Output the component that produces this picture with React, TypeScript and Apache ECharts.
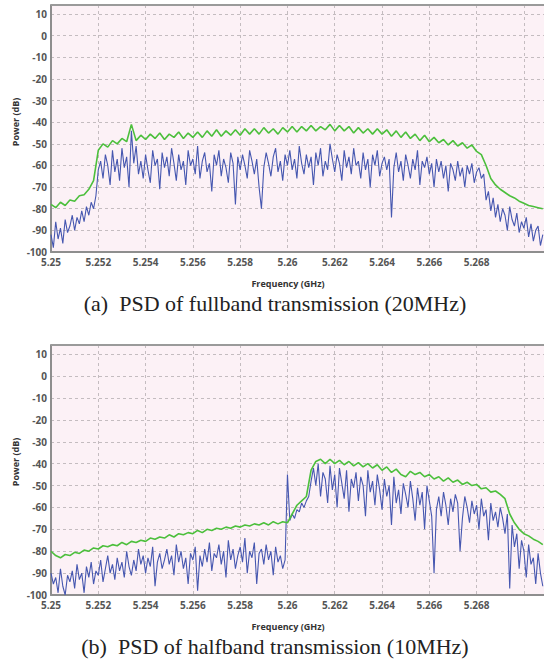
import React, { useEffect, useRef } from "react";
import * as echarts from "echarts";

// Frequency grid (GHz)
const F_START = 5.25;
const GREEN_STEP = 0.0002;
const BLUE_STEP = 0.0001;

const yTicks = [-100, -90, -80, -70, -60, -50, -40, -30, -20, -10, 0, 10];
const xTickLabels = ["5.25", "5.252", "5.254", "5.256", "5.258", "5.26", "5.262", "5.264", "5.266", "5.268"];

// (a) fullband — max-hold (green), step 0.0002 GHz
const fullMax = [
  -78, -79.5, -77, -78.5, -76, -76.5, -74, -73.5, -71, -67,
  -53, -50, -51.5, -48.5, -50, -47.5, -49, -41, -48.5, -46,
  -48, -45.5, -47.5, -45, -48, -45.5, -47, -44.5, -47.5, -45,
  -47, -44.5, -47, -44, -46.5, -43.5, -46.5, -44, -46, -43.5,
  -46, -43, -45.5, -43, -45.5, -42.5, -45, -43, -45.5, -42.5,
  -44.5, -42, -44.5, -42, -44, -41.5, -44, -42, -43.5, -41,
  -44, -41.5, -44, -42, -45, -42.5, -45, -43, -45.5, -43,
  -45.5, -43.5, -46.5, -44, -47, -44.5, -47.5, -45.5, -48.5, -46,
  -49, -47, -49.5, -48, -50.5, -48.5, -51, -49.5, -52, -50.5,
  -53.5, -55, -60, -66, -69, -71, -72.5, -74, -75, -76.5,
  -77.5, -78.5, -79, -79.5, -80,
];

// (a) fullband — instantaneous (blue), step 0.0001 GHz
const fullInst = [
  -92, -98, -86, -94, -89, -96, -85, -91, -88, -83,
  -90, -84, -87, -81, -86, -79, -83, -77, -80, -74,
  -62, -58, -66, -55, -60, -69, -53, -63, -57, -67,
  -52, -61, -56, -70, -44, -59, -51, -64, -58, -66,
  -55, -62, -68, -53, -60, -57, -71, -54, -61, -56,
  -65, -52, -59, -67, -55, -62, -58, -69, -53, -60,
  -57, -64, -51, -66, -58, -54, -63, -59, -72, -55,
  -60, -53, -65, -57, -61, -68, -54, -59, -78, -56,
  -62, -55, -60, -66, -53, -58, -64, -57, -70, -80,
  -61, -54, -59, -65, -56, -52, -63, -58, -67, -55,
  -60, -53, -62, -57, -66, -51, -59, -64, -55, -61,
  -56, -69, -54, -60, -52, -65, -58, -62, -50, -57,
  -63, -55, -59, -67, -53, -61, -56, -64, -52, -60,
  -58, -66, -54, -62, -57, -70, -55, -60, -53, -65,
  -59, -56, -62, -57, -84, -61, -54, -63, -58, -67,
  -55, -60, -66, -57, -62, -53, -69, -58, -61, -56,
  -64, -59, -70, -57, -63, -58, -66, -60, -72, -59,
  -62, -67, -58, -65, -61, -70, -60, -64, -59, -68,
  -63, -61, -66, -64, -76, -72, -81, -75, -84, -78,
  -86, -80, -83, -90, -79, -85, -88, -82, -91, -86,
  -89, -84, -93, -87, -95, -90, -88, -97, -92,
];

// (b) halfband — max-hold (green), step 0.0002 GHz
const halfMax = [
  -80, -82, -83, -81.5, -82, -80.5, -81, -79.5, -80, -78.5,
  -79, -77.5, -78, -77, -77.5, -76, -77, -75.5, -76, -75,
  -75.5, -74, -74.5, -73.5, -74, -72.5, -73.5, -72, -72.5, -71.5,
  -72, -70.5, -71.5, -70, -70.5, -69.5, -70, -69, -69.5, -68.5,
  -69, -68, -68.5, -67.5, -68, -67, -68, -66.5, -67.5, -66.5,
  -67, -63, -59, -57, -55, -43, -39, -38, -40, -38,
  -40, -38.5, -40.5, -39, -41, -39.5, -41.5, -40, -42, -40.5,
  -43, -41.5, -44, -42.5, -45, -46, -43.5, -45, -44, -46,
  -45, -47, -46, -48, -46.5, -48.5, -47.5, -49.5, -48.5, -50,
  -49.5, -51.5, -51, -53, -52.5, -54, -56, -63, -67, -70,
  -72, -73, -74.5, -75.5, -77,
];

// (b) halfband — instantaneous (blue), step 0.0001 GHz
const halfInst = [
  -90, -95, -92, -99, -88, -96, -100, -91, -94, -89,
  -97, -86, -93, -90, -99, -87, -92, -85, -95, -89,
  -91, -84, -94, -88, -82, -90, -86, -93, -83, -89,
  -85, -92, -80, -87, -91, -84, -89, -79, -86, -82,
  -90, -83, -87, -78, -96, -85, -81, -88, -84, -79,
  -86, -82, -91, -77, -85, -80, -88, -83, -95, -81,
  -84, -78, -98, -82, -87, -79, -85, -76, -89, -81,
  -83, -77, -86, -80, -92, -75, -84, -79, -88, -82,
  -78, -85, -74, -90, -80, -83, -76, -95, -81, -79,
  -86, -77, -84, -80, -91, -78, -85, -82, -88, -84,
  -45, -66, -63, -65, -61, -62, -58, -60, -57, -55,
  -48, -42, -50, -40, -55, -44, -47, -58, -41, -52,
  -45, -60, -42, -49, -56, -43, -62, -47, -51, -44,
  -57, -46, -50, -64, -43, -53, -48, -59, -45, -52,
  -61, -47, -55, -50, -68, -46, -58, -52, -63, -49,
  -54, -60, -48, -56, -66, -51, -59, -53, -70, -50,
  -57, -64, -90, -61, -55, -64, -53, -59, -68, -56,
  -62, -54, -58, -80, -65, -55, -60, -67, -57, -63,
  -59, -70, -56, -64, -61, -75, -58, -66, -62, -69,
  -60, -65, -72, -63, -97, -68, -78, -72, -88, -75,
  -80, -92, -77, -86, -83, -95, -81, -90, -96,
];

const toPairs = (vals: number[], step: number) =>
  vals.map((v, i) => [+(F_START + i * step).toFixed(5), v]);

const BG = "#fcf1f6";
const AXIS_GRAY = "#8e8e8e";
const GRID_GRAY = "#c4bcc0";
const BLUE = "#4657b0";
const GREEN = "#4cbf3c";
const LABEL_FONT = "'Open Sans', 'DejaVu Sans', sans-serif";
const SERIF = "'Liberation Serif', 'DejaVu Serif', serif";

const grids = [
  { left: 51, top: 5, width: 493, height: 247 },
  { left: 51, top: 345, width: 493, height: 250 },
];

export default function App() {
  const ref = useRef<HTMLDivElement>(null);

  useEffect(() => {
    if (!ref.current) return;
    const chart = echarts.init(ref.current, null, { renderer: "svg" });

    const xAxisFor = (gi: number) => ({
      type: "value",
      gridIndex: gi,
      min: 5.25,
      max: 5.27085,
      interval: 0.002,
      axisLine: { show: true, onZero: false, lineStyle: { color: AXIS_GRAY, width: 2 } },
      axisTick: { show: false },
      splitLine: { show: true, lineStyle: { color: GRID_GRAY, type: [3, 3], width: 1 } },
      axisLabel: {
        showMaxLabel: false,
        margin: 5,
        color: "#555",
        fontFamily: LABEL_FONT,
        fontWeight: "bold",
        fontSize: 10,
        formatter: (v: number) => {
          const idx = Math.round((v - 5.25) / 0.002);
          return xTickLabels[idx] ?? "";
        },
      },
    });

    const yAxisFor = (gi: number) => ({
      type: "value",
      gridIndex: gi,
      min: yTicks[0],
      max: 14.2,
      interval: 10,
      axisLine: { show: true, onZero: false, lineStyle: { color: AXIS_GRAY, width: 2 } },
      axisTick: { show: false },
      splitLine: { show: true, lineStyle: { color: GRID_GRAY, type: [3, 3], width: 1 } },
      axisLabel: {
        showMaxLabel: false,
        margin: 4,
        color: "#555",
        fontFamily: LABEL_FONT,
        fontWeight: "bold",
        fontSize: 10,
        formatter: (v: number) => (yTicks.includes(Math.round(v)) ? String(Math.round(v)) : ""),
      },
    });

    const lineSeries = (data: number[][], gi: number, color: string, width: number, z: number) => ({
      type: "line",
      xAxisIndex: gi,
      yAxisIndex: gi,
      data,
      showSymbol: false,
      symbol: "none",
      lineStyle: { color, width },
      z,
      silent: true,
    });

    const texts: any[] = [];
    grids.forEach((g, gi) => {
      texts.push({
        type: "line",
        shape: { x1: g.left, y1: g.top, x2: g.left + g.width, y2: g.top },
        style: { stroke: "#9a9a9a", lineWidth: 2 },
        z: 10,
      });
      texts.push({
        type: "text",
        x: 15,
        y: g.top + 117,
        rotation: Math.PI / 2,
        style: {
          text: "Power (dB)",
          font: `bold 9px ${LABEL_FONT}`,
          fill: "#333",
          textAlign: "center",
          textVerticalAlign: "middle",
        },
      });
      texts.push({
        type: "text",
        x: 288,
        y: g.top + g.height + 31,
        style: {
          text: "Frequency (GHz)",
          font: `bold 9px ${LABEL_FONT}`,
          fill: "#333",
          textAlign: "center",
          textVerticalAlign: "middle",
        },
      });
      texts.push({
        type: "text",
        x: 275,
        y: g.top + g.height + 51,
        style: {
          text: gi === 0 ? "(a)  PSD of fullband transmission (20MHz)" : "(b)  PSD of halfband transmission (10MHz)",
          font: `22px ${SERIF}`,
          fill: "#222",
          textAlign: "center",
          textVerticalAlign: "middle",
        },
      });
    });

    chart.setOption({
      animation: false,
      backgroundColor: "#ffffff",
      grid: grids.map((g) => ({ ...g, show: true, backgroundColor: BG, borderWidth: 0 })),
      xAxis: [xAxisFor(0), xAxisFor(1)],
      yAxis: [yAxisFor(0), yAxisFor(1)],
      series: [
        lineSeries(toPairs(fullInst, BLUE_STEP), 0, BLUE, 1.1, 2),
        lineSeries(toPairs(fullMax, GREEN_STEP), 0, GREEN, 1.6, 3),
        lineSeries(toPairs(halfInst, BLUE_STEP), 1, BLUE, 1.1, 2),
        lineSeries(toPairs(halfMax, GREEN_STEP), 1, GREEN, 1.6, 3),
      ],
      graphic: texts,
    });

    return () => chart.dispose();
  }, []);

  return (
    <div
      ref={ref}
      style={{ position: "absolute", left: 0, top: 0, width: 544, height: 667 }}
    />
  );
}
